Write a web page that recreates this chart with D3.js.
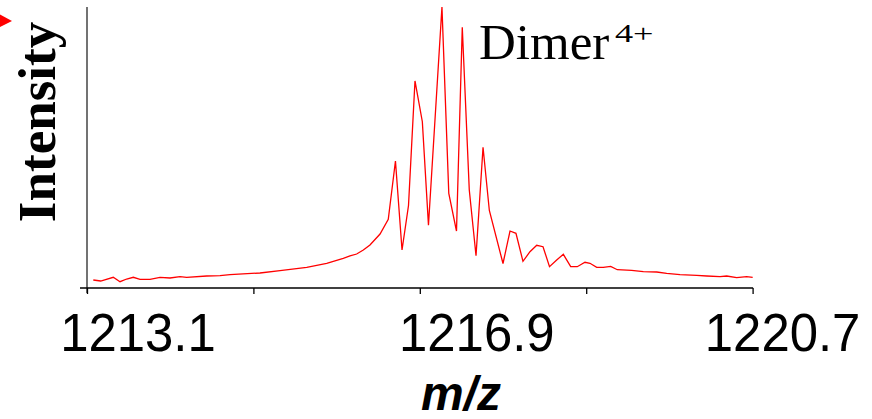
<!DOCTYPE html>
<html>
<head>
<meta charset="utf-8">
<script src="https://cdn.jsdelivr.net/npm/d3@7"></script>
<style>
  html, body { margin: 0; padding: 0; background: #fff; }
  svg { display: block; }
</style>
</head>
<body>
<svg id="chart" width="872" height="419"></svg>
<script>
// ---- data ----
const mz = [
  1213.172, 1213.256, 1213.400, 1213.477, 1213.553, 1213.629, 1213.705, 1213.819,
  1213.934, 1214.048, 1214.162, 1214.238, 1214.467, 1214.619, 1214.733, 1215.075,
  1215.304, 1215.609, 1215.837, 1216.026, 1216.103, 1216.179, 1216.255, 1216.331,
  1216.446, 1216.540, 1216.622, 1216.697, 1216.771, 1216.845, 1216.929, 1216.999,
  1217.153, 1217.231, 1217.319, 1217.385, 1217.465, 1217.542, 1217.622, 1217.694,
  1217.850, 1217.930, 1217.998, 1218.078, 1218.158, 1218.235, 1218.307, 1218.381,
  1218.463, 1218.539, 1218.623, 1218.698, 1218.786, 1218.843, 1218.920, 1218.995,
  1219.080, 1219.155, 1219.319, 1219.452, 1219.605, 1219.719, 1219.871, 1220.062,
  1220.176, 1220.328, 1220.404, 1220.518, 1220.632, 1220.701
];
const intensity = [
  2.85, 2.49, 3.81, 2.24, 3.20, 3.81, 3.10, 3.10,
  3.81, 3.56, 4.02, 3.81, 4.27, 4.38, 4.73, 5.34,
  6.16, 7.37, 8.79, 10.57, 11.39, 12.10, 13.52, 15.30,
  19.22, 24.45, 45.20, 13.52, 29.36, 73.67, 59.18, 22.31,
  100.0, 33.63, 20.28, 92.78, 34.88, 11.49, 50.11, 27.58,
  8.72, 20.28, 19.47, 9.50, 12.92, 15.20, 14.70, 7.58,
  9.96, 11.99, 7.58, 7.58, 9.15, 8.79, 7.37, 7.37,
  7.72, 6.51, 6.30, 5.80, 5.69, 5.23, 4.73, 4.52,
  4.27, 4.02, 4.27, 3.67, 4.02, 3.81
];
const tickValues = [1213.1, 1215.0, 1216.9, 1218.8, 1220.7];
const tickLabels = ["1213.1", "", "1216.9", "", "1220.7"];
const yTitle = "Intensity";
const xTitle = "m/z";
const annotation = "Dimer";
const annotationSup = "4+";

// ---- layout ----
const svg = d3.select("#chart");
const x = d3.scaleLinear().domain([1213.1, 1220.7]).range([87, 752.6]);
const y = d3.scaleLinear().domain([0, 100]).range([288, 7]);

// Y axis line (no ticks)
svg.append("line")
  .attr("x1", x(1213.1)).attr("x2", x(1213.1))
  .attr("y1", y(100)).attr("y2", y(0) + 5)
  .attr("stroke", "#444").attr("stroke-width", 1.5);

// X axis
const xAxis = d3.axisBottom(x)
  .tickValues(tickValues)
  .tickFormat("")
  .tickSizeInner(6)
  .tickSizeOuter(0);
const gx = svg.append("g")
  .attr("transform", `translate(0,${y(0)})`)
  .call(xAxis);
gx.select(".domain").remove();
gx.selectAll(".tick line").attr("stroke", "#000").attr("stroke-width", 1.3);
svg.append("line")
  .attr("x1", 80).attr("x2", x(1220.7) + 0.5)
  .attr("y1", y(0)).attr("y2", y(0))
  .attr("stroke", "#000").attr("stroke-width", 1.5);

// Tick labels (placed as in the reference, offset to the right of their ticks)
const labelDx = [51, 0, 57, 0, 30];
svg.append("g").selectAll("text")
  .data(tickValues.map((v, i) => ({ v, t: tickLabels[i], dx: labelDx[i] })).filter(d => d.t))
  .join("text")
  .attr("transform", d => `translate(${x(d.v) + d.dx},351) scale(0.96,1)`)
  .attr("text-anchor", "middle")
  .attr("font-family", "'Liberation Sans', Arial, sans-serif")
  .attr("font-size", 53)
  .attr("fill", "#000")
  .text(d => d.t);

// Line
const line = d3.line()
  .x((d, i) => x(mz[i]))
  .y((d, i) => y(intensity[i]));
svg.append("path")
  .datum(intensity)
  .attr("d", line)
  .attr("fill", "none")
  .attr("stroke", "#ff0000")
  .attr("stroke-width", 1.3)
  .attr("stroke-linejoin", "miter");

// Y title
svg.append("text")
  .attr("transform", "translate(55,122) rotate(-90)")
  .attr("text-anchor", "middle")
  .attr("font-family", "'Liberation Serif', 'Times New Roman', serif")
  .attr("font-weight", "bold")
  .attr("font-size", 53)
  .attr("fill", "#000")
  .text(yTitle);

// X title
svg.append("text")
  .attr("x", 461)
  .attr("y", 410)
  .attr("text-anchor", "middle")
  .attr("font-family", "'Liberation Sans', Arial, sans-serif")
  .attr("font-weight", "bold")
  .attr("font-style", "italic")
  .attr("font-size", 48)
  .attr("fill", "#000")
  .text(xTitle);

// Annotation
svg.append("text")
  .attr("x", 479)
  .attr("y", 59)
  .attr("font-family", "'Liberation Serif', 'Times New Roman', serif")
  .attr("font-size", 51)
  .attr("fill", "#000")
  .text(annotation);
svg.append("text")
  .attr("transform", "translate(615,42) scale(1.45,1)")
  .attr("font-family", "'Liberation Serif', 'Times New Roman', serif")
  .attr("font-size", 25)
  .attr("fill", "#000")
  .text(annotationSup);

// Red marker triangle at top-left
svg.append("path")
  .attr("d", "M0,14.5 L12,21 L0,27 Z")
  .attr("fill", "#ff0000");
</script>
</body>
</html>
